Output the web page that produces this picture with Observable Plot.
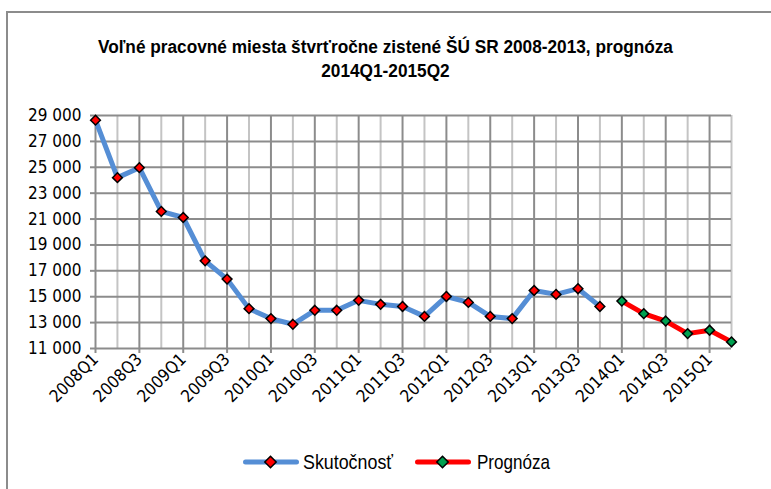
<!DOCTYPE html>
<html>
<head>
<meta charset="utf-8">
<script src="https://cdn.jsdelivr.net/npm/d3@7"></script>
<script src="https://cdn.jsdelivr.net/npm/@observablehq/plot@0.6"></script>
<style>
  html, body { margin: 0; padding: 0; background: #fff; }
  #chart { position: relative; width: 771px; height: 489px; overflow: hidden; background: #fff;
    font-family: "Liberation Sans", Arial, sans-serif; }
  #frame { position: absolute; left: 6px; top: 11px; width: 900px; height: 600px; border: 2px solid #8c8c8c; box-sizing: border-box; }
  #title { position: absolute; left: 0; top: 35px; width: 771px; text-align: center; font-weight: bold; font-size: 18px; line-height: 24px; color: #000; transform-origin: 385px 0; }
  #title span { white-space: nowrap; }
  #plot { position: absolute; left: 0; top: 100px; }
  .leg { position: absolute; }
  .legtext { position: absolute; font-size: 21px; line-height: 24px; color: #000; white-space: nowrap; transform-origin: 0 50%; }
</style>
</head>
<body>
<div id="chart">
  <div id="frame"></div>
  <div id="title"><span id="t1">Voľné pracovné miesta štvrťročne zistené ŠÚ SR 2008-2013, prognóza</span><br><span>2014Q1-2015Q2</span></div>
  <div id="plot"></div>
</div>
<script>
// Quarters (x categories)
const quarters = [
  "2008Q1","2008Q2","2008Q3","2008Q4",
  "2009Q1","2009Q2","2009Q3","2009Q4",
  "2010Q1","2010Q2","2010Q3","2010Q4",
  "2011Q1","2011Q2","2011Q3","2011Q4",
  "2012Q1","2012Q2","2012Q3","2012Q4",
  "2013Q1","2013Q2","2013Q3","2013Q4",
  "2014Q1","2014Q2","2014Q3","2014Q4",
  "2015Q1","2015Q2"
];
// Skutočnosť 2008Q1–2013Q4
const actualValues = [
  28640, 24200, 24970, 21590,
  21120, 17770, 16360, 14080,
  13310, 12870, 13950, 13950,
  14720, 14410, 14250, 13480,
  15020, 14560, 13480, 13310,
  15480, 15180, 15620, 14250
];
// Prognóza 2014Q1–2015Q2
const forecastValues = [14660, 13690, 13120, 12150, 12410, 11510];

const yTicks = [11000, 13000, 15000, 17000, 19000, 21000, 23000, 25000, 27000, 29000];
const xIndex = quarters.map((q, i) => i);
const majorIdx = xIndex.filter(i => i % 2 === 0);
const minorIdx = xIndex.filter(i => i % 2 === 1);

const seriesNames = ["Skutočnosť", "Prognóza"];
const lineColors = ["#558ED5", "#FF0000"];
const markerColors = ["#FF0000", "#00A050"];

const actualData = actualValues.map((v, i) => ({i, v}));
const forecastData = forecastValues.map((v, k) => ({i: actualValues.length + k, v}));

const fmt = v => d3.format(",")(v).replace(/,/g, "\u00a0");
const axisFont = '"DejaVu Sans Condensed", "Liberation Sans", sans-serif';

const chart = Plot.plot({
  width: 771,
  height: 320,
  marginLeft: 95,
  marginRight: 40,
  marginTop: 15,
  marginBottom: 72,
  style: {fontFamily: axisFont, fontSize: "17px", color: "#000", background: "transparent"},
  x: {type: "linear", domain: [0, quarters.length - 1]},
  y: {domain: [11000, 29000]},
  marks: [
    Plot.ruleX(minorIdx, {stroke: "#c4c4c4", strokeWidth: 2}),
    Plot.ruleX(majorIdx, {stroke: "#8c8c8c", strokeWidth: 2}),
    Plot.ruleY(yTicks, {stroke: "#8c8c8c", strokeWidth: 2}),
    Plot.axisY({ticks: yTicks, tickFormat: fmt, tickSize: 5, tickPadding: 9, stroke: "#8c8c8c", strokeWidth: 2, fill: "#000", fontSize: 17, label: null}),
    Plot.axisX({ticks: majorIdx, tickFormat: i => quarters[i], tickSize: 5, tickPadding: 3, tickRotate: -45, stroke: "#8c8c8c", strokeWidth: 2, fill: "#000", fontSize: 17, label: null}),
    Plot.line(actualData, {x: "i", y: "v", stroke: lineColors[0], strokeWidth: 5}),
    Plot.line(forecastData, {x: "i", y: "v", stroke: lineColors[1], strokeWidth: 5}),
    Plot.dot(actualData, {x: "i", y: "v", symbol: "diamond2", r: 4.4, fill: markerColors[0], stroke: "#000", strokeWidth: 1.5}),
    Plot.dot(forecastData, {x: "i", y: "v", symbol: "diamond2", r: 4.4, fill: markerColors[1], stroke: "#000", strokeWidth: 1.5})
  ]
});
document.getElementById("plot").appendChild(chart);

// Title: condense to match the narrow face of the original
const titleEl = document.getElementById("title");
const t1w = document.getElementById("t1").getBoundingClientRect().width;
titleEl.style.transform = `scaleX(${575 / t1w})`;

// Legend
const chartEl = document.getElementById("chart");
const legendSwatchX = [243, 415];
const legendTextX = [303, 477];
const legendTextW = [90, 73];
const legendY = 462;
seriesNames.forEach((name, i) => {
  const sw = document.createElement("div");
  sw.className = "leg";
  sw.style.left = legendSwatchX[i] + "px";
  sw.style.top = (legendY - 8) + "px";
  sw.innerHTML = `<svg width="56" height="16" viewBox="0 0 56 16">
    <line x1="2.5" y1="8" x2="53.5" y2="8" stroke="${lineColors[i]}" stroke-width="5" stroke-linecap="round"/>
    <path d="M27.5,2.3 L33.2,8 L27.5,13.7 L21.8,8 Z" fill="${markerColors[i]}" stroke="#000" stroke-width="1.5"/>
  </svg>`;
  chartEl.appendChild(sw);
  const tx = document.createElement("div");
  tx.className = "legtext";
  tx.textContent = name;
  tx.style.left = legendTextX[i] + "px";
  tx.style.top = (legendY - 12) + "px";
  chartEl.appendChild(tx);
  const w = tx.getBoundingClientRect().width;
  tx.style.transform = `scaleX(${legendTextW[i] / w})`;
});
</script>
</body>
</html>
